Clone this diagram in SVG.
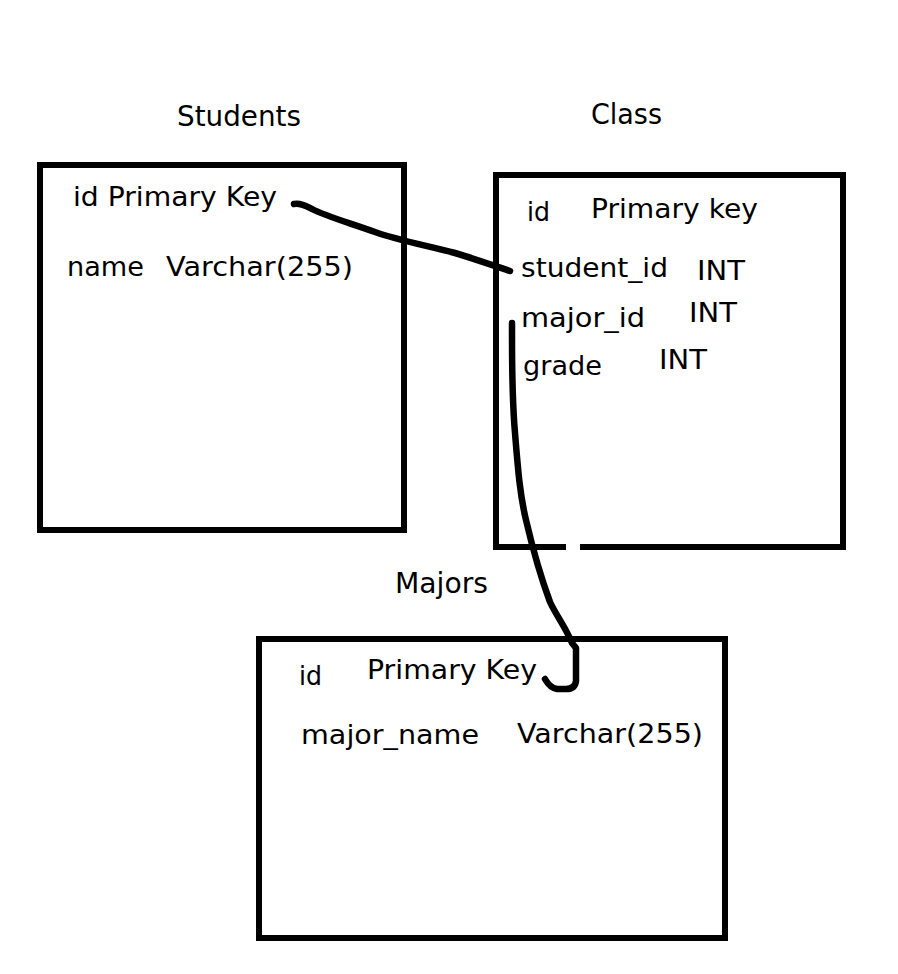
<svg xmlns="http://www.w3.org/2000/svg" width="898" height="974" viewBox="0 0 898 974">
<style>
.box{fill:none;stroke:#000;stroke-width:6;stroke-linecap:square}
.t{font-family:"DejaVu Sans","Verdana",sans-serif;font-size:26px;fill:#000}
.h{font-family:"DejaVu Sans","Verdana",sans-serif;font-size:27.5px;fill:#000}
.c{fill:none;stroke:#000;stroke-width:6.5;stroke-linecap:round;stroke-linejoin:round}
</style>
<rect width="898" height="974" fill="#fff"/>
<g id="students">
<text class="h" x="177" y="126" textLength="124" lengthAdjust="spacingAndGlyphs">Students</text>
<rect class="box" x="40" y="165" width="364" height="365"/>
<text class="t" x="73" y="206" textLength="204" lengthAdjust="spacingAndGlyphs">id Primary Key</text>
<text class="t" x="67" y="276" textLength="77" lengthAdjust="spacingAndGlyphs">name</text>
<text class="t" x="166" y="276" textLength="187" lengthAdjust="spacingAndGlyphs">Varchar(255)</text>
</g>
<g id="class">
<text class="h" x="591" y="124" textLength="71" lengthAdjust="spacingAndGlyphs">Class</text>
<path class="box" d="M563,547 H496 V175 H843 V547 H583"/>
<text class="t" x="527" y="221" textLength="23" lengthAdjust="spacingAndGlyphs">id</text>
<text class="t" x="591" y="218" textLength="167" lengthAdjust="spacingAndGlyphs">Primary key</text>
<text class="t" x="521" y="277" textLength="147" lengthAdjust="spacingAndGlyphs">student_id</text>
<text class="t" x="697" y="280" textLength="48" lengthAdjust="spacingAndGlyphs">INT</text>
<text class="t" x="521" y="327" textLength="124" lengthAdjust="spacingAndGlyphs">major_id</text>
<text class="t" x="689" y="322" textLength="48" lengthAdjust="spacingAndGlyphs">INT</text>
<text class="t" x="523" y="375" textLength="79" lengthAdjust="spacingAndGlyphs">grade</text>
<text class="t" x="659" y="369" textLength="48" lengthAdjust="spacingAndGlyphs">INT</text>
</g>
<g id="majors">
<text class="h" x="395" y="593" textLength="93" lengthAdjust="spacingAndGlyphs">Majors</text>
<rect class="box" x="259" y="639" width="466" height="299"/>
<text class="t" x="299" y="685" textLength="23" lengthAdjust="spacingAndGlyphs">id</text>
<text class="t" x="367" y="679" textLength="170" lengthAdjust="spacingAndGlyphs">Primary Key</text>
<text class="t" x="301" y="744" textLength="178" lengthAdjust="spacingAndGlyphs">major_name</text>
<text class="t" x="517" y="743" textLength="186" lengthAdjust="spacingAndGlyphs">Varchar(255)</text>
</g>
<g id="connectors">
<path class="c" d="M294,204 C301,203 306,206 312,209 C325,216 350,223 375,232 C400,241 430,246 455,253 C475,259 495,266 510,271"/>
<path class="c" d="M512,323 L512,335 C512,380 513,410 515,433 C518,470 520,495 526,520 C533,550 540,575 550,602 C556,615 566,628 572,643 L576,648 L576,681 Q575,689 566,689 L557,689 Q550,688 545,679"/>
</g>
</svg>
